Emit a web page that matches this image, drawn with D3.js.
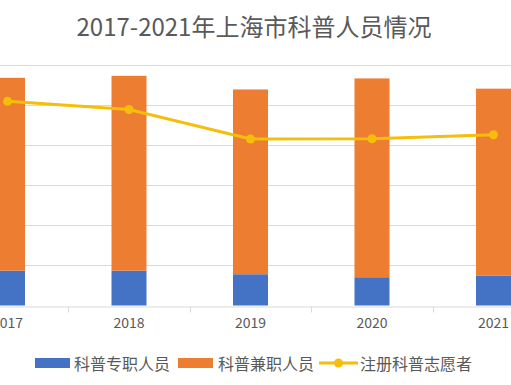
<!DOCTYPE html>
<html><head><meta charset="utf-8">
<script src="https://cdn.jsdelivr.net/npm/d3@7"></script>
<style>body{margin:0;background:#fff}svg{display:block}</style>
</head><body>
<svg id="c" width="511" height="385"></svg>
<script>
const years = ["2017","2018","2019","2020","2021"];
const fullTime = [8700, 8700, 7800, 7050, 7400];
const partTime = [48100, 48600, 46100, 49600, 46700];
const volunteers = [50950, 48900, 41550, 41600, 42600];
const yTicks = [10000, 20000, 30000, 40000, 50000, 60000];
const seriesNames = ["科普专职人员", "科普兼职人员", "注册科普志愿者"];
const colors = ["#4472C4", "#ED7D31", "#F5BE0A"];

const svg = d3.select("#c");
const font = "'Noto Sans CJK SC','Noto Sans',sans-serif";
const x = d3.scaleBand().domain(years).range([-53.25, 554.25]).padding(0);
const y = d3.scaleLinear().domain([0, 60000]).range([305.5, 65]);
const bw = 35;

// title
svg.append("text").attr("x", 254).attr("y", 25).attr("text-anchor", "middle")
  .attr("dominant-baseline", "central").attr("font-family", font)
  .attr("font-size", 24).attr("fill", "#595959").text("2017-2021年上海市科普人员情况");

// gridlines
svg.append("g").selectAll("line").data(yTicks).join("line")
  .attr("x1", 0).attr("x2", 511).attr("y1", d => Math.round(y(d)) + 0.5).attr("y2", d => Math.round(y(d)) + 0.5)
  .attr("stroke", "#d9d9d9").attr("stroke-width", 1);

// bars
const cx = d => x(d) + x.bandwidth() / 2;
const g = svg.append("g");
g.selectAll(".b1").data(years).join("rect")
  .attr("x", d => cx(d) - bw / 2).attr("width", bw)
  .attr("y", (d, i) => y(fullTime[i])).attr("height", (d, i) => y(0) - y(fullTime[i]))
  .attr("fill", colors[0]);
g.selectAll(".b2").data(years).join("rect")
  .attr("x", d => cx(d) - bw / 2).attr("width", bw)
  .attr("y", (d, i) => y(fullTime[i] + partTime[i]))
  .attr("height", (d, i) => y(fullTime[i]) - y(fullTime[i] + partTime[i]))
  .attr("fill", colors[1]);

// x axis
const xAxis = d3.axisBottom(x).tickSize(0).tickPadding(12);
const ax = svg.append("g").attr("transform", `translate(0,${Math.round(y(0)) + 0.5})`).call(xAxis);
ax.select(".domain").attr("stroke", "#d9d9d9");
ax.selectAll("text").attr("font-family", font).attr("font-size", 14).attr("fill", "#595959");
// category separator ticks
ax.selectAll(".sep").data(years.slice(1)).join("line")
  .attr("x1", d => Math.round(x(d)) + 0.5).attr("x2", d => Math.round(x(d)) + 0.5)
  .attr("y1", 0).attr("y2", 6).attr("stroke", "#d9d9d9");

// line
const line = d3.line().x((d, i) => cx(years[i])).y(d => y(d));
svg.append("path").datum(volunteers).attr("d", line).attr("fill", "none")
  .attr("stroke", colors[2]).attr("stroke-width", 3);
svg.append("g").selectAll("circle").data(volunteers).join("circle")
  .attr("cx", (d, i) => cx(years[i])).attr("cy", d => y(d)).attr("r", 4.5)
  .attr("fill", colors[2]);

// legend
const ly = 363;
const leg = svg.append("g").attr("font-family", font).attr("font-size", 16).attr("fill", "#595959");
leg.append("rect").attr("x", 35).attr("y", ly - 5).attr("width", 35).attr("height", 10).attr("fill", colors[0]);
leg.append("text").attr("x", 74).attr("y", ly).attr("dominant-baseline", "central").text(seriesNames[0]);
leg.append("rect").attr("x", 178).attr("y", ly - 5).attr("width", 35).attr("height", 10).attr("fill", colors[1]);
leg.append("text").attr("x", 218).attr("y", ly).attr("dominant-baseline", "central").text(seriesNames[1]);
leg.append("line").attr("x1", 319).attr("x2", 358).attr("y1", ly).attr("y2", ly).attr("stroke", colors[2]).attr("stroke-width", 3);
leg.append("circle").attr("cx", 338.5).attr("cy", ly).attr("r", 4.5).attr("fill", colors[2]);
leg.append("text").attr("x", 360).attr("y", ly).attr("dominant-baseline", "central").text(seriesNames[2]);
</script>
</body></html>
